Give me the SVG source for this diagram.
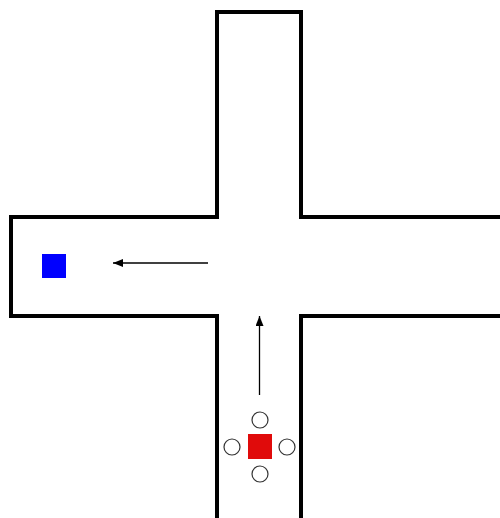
<svg xmlns="http://www.w3.org/2000/svg" width="500" height="518" viewBox="0 0 500 518">
<style>
.wall{fill:none;stroke:#000;stroke-width:4;stroke-linejoin:miter}
.arrow{fill:none;stroke:#000;stroke-width:1.3}
.sensor{fill:#fff;stroke:#333;stroke-width:1.2}
</style>
<defs>
<marker id="ah" markerWidth="10" markerHeight="8" refX="10" refY="4" orient="auto" markerUnits="userSpaceOnUse">
<path d="M0,0 L10,4 L0,8 Z" fill="#000"/>
</marker>
</defs>
<rect width="500" height="518" fill="#fff"/>
<g id="corridors">
<path class="wall" d="M500,217 H301 V12 H217 V217 H11 V316 H217 V520"/>
<path class="wall" d="M301,520 V316 H500"/>
</g>
<g id="target">
<rect x="42" y="254" width="24" height="24" fill="#0000ff"/>
</g>
<g id="robot">
<rect x="248" y="434" width="24" height="25" fill="#e00b0b"/>
<circle class="sensor" cx="260" cy="420" r="8"/>
<circle class="sensor" cx="260" cy="474" r="8"/>
<circle class="sensor" cx="232" cy="447" r="8"/>
<circle class="sensor" cx="287" cy="447" r="8"/>
</g>
<g id="connectors">
<line class="arrow" x1="259.5" y1="395" x2="259.5" y2="316" marker-end="url(#ah)"/>
<line class="arrow" x1="208" y1="263" x2="113" y2="263" marker-end="url(#ah)"/>
</g>
</svg>
